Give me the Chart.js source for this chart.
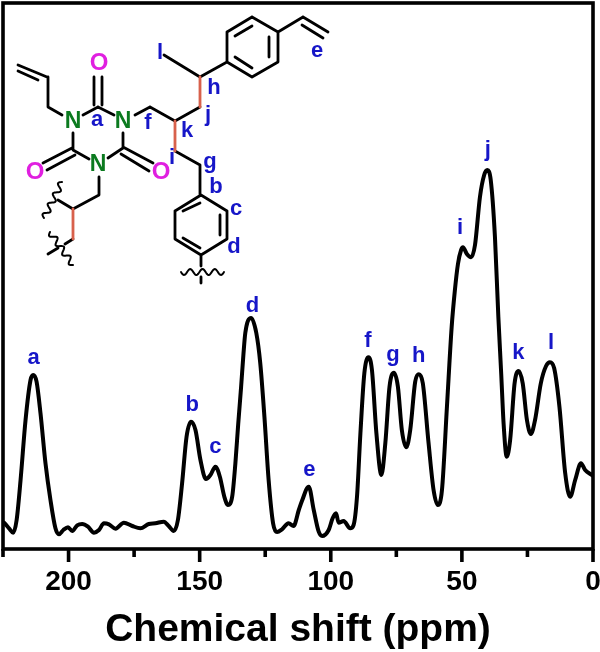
<!DOCTYPE html>
<html lang="en">
<head>
  <meta charset="UTF-8" />
  <title>Chemical shift spectrum</title>
  <script src="https://cdn.jsdelivr.net/npm/chart.js"></script>
  <style>
    html, body { margin: 0; padding: 0; background: #fff; }
    #wrap { width: 600px; height: 652px; }
  </style>
</head>
<body>
  <div id="wrap"><canvas id="nmrChart" width="600" height="652"></canvas></div>

  <script>
    // spectrum: ppm and intensity, same order
    const ppmValues = [225, 224.4, 222.7, 221.1, 219.8, 218.3, 216.4, 214.5, 213.5, 212.2, 210.7, 208.8, 206.9, 205.0, 203.7, 202.0, 200.2, 198.6, 196.7, 194.8, 192.6, 190.3, 188.4, 186.5, 184.6, 182.1, 178.9, 175.7, 172.6, 169.4, 166.9, 163.7, 161.8, 159.9, 158.3, 156.7, 155.0, 153.3, 151.6, 149.7, 147.6, 145.9, 144.0, 142.3, 140.6, 139.2, 137.6, 136.4, 135.3, 134.2, 133.3, 132.6, 130.4, 128.4, 126.9, 125.3, 123.7, 122.0, 120.5, 118.6, 116.1, 114.2, 112.2, 111.0, 108.4, 106.5, 104.6, 103.3, 100.8, 99.3, 98.0, 97.0, 95.1, 92.6, 91.3, 90.0, 88.7, 87.2, 85.6, 84.3, 82.6, 80.7, 79.2, 77.6, 75.9, 74.4, 72.9, 71.2, 69.7, 67.8, 66.4, 64.9, 62.7, 60.8, 59.2, 57.6, 55.7, 53.9, 52.7, 51.5, 50.3, 49.6, 48.1, 46.5, 45.0, 43.1, 41.5, 40.3, 39.0, 37.4, 36.1, 35.0, 34.1, 32.9, 31.6, 29.9, 28.4, 26.8, 25.2, 23.7, 22.1, 19.9, 17.9, 16.4, 14.8, 12.8, 10.6, 8.7, 6.8, 4.6, 3.0, 0.5, 0];
    const intensity = [27, 25.7, 20.7, 16.3, 29, 69, 129, 169, 174, 167.3, 135.7, 85.7, 49, 20.7, 14.7, 19, 21.7, 18, 23.7, 25, 22.3, 16.3, 19, 25.7, 24.7, 20.3, 26.3, 23, 20.7, 25, 25.7, 27.3, 23, 18, 29, 65.7, 112.3, 127.3, 119, 89, 70, 74, 82.3, 72.3, 52.3, 44, 52.3, 85, 125, 162, 195, 216, 231, 216, 186, 132, 69, 25.7, 17, 19.7, 25.7, 23, 39, 48, 62.3, 39, 17.3, 13, 19, 30.7, 35.7, 26.3, 28, 20.7, 24, 52.3, 115.7, 175.7, 191.7, 179, 115.7, 74, 105.7, 162.3, 176.3, 162.3, 119, 101.7, 119, 167.3, 174.7, 165.7, 105.7, 59, 44, 59, 142.3, 222, 258, 285, 299, 301.7, 295, 291.7, 304, 352.3, 374, 379, 369, 312.3, 232.3, 175, 125.7, 92.3, 109, 165.7, 178, 165.7, 129, 115, 129, 165.7, 183, 186.7, 180.7, 142.3, 75.7, 52.3, 69, 85.7, 79, 74, 73];

    const labelledTicks = [200, 150, 100, 50, 0];

    // peak letters above the trace
    const peakNames = ["a", "b", "c", "d", "e", "f", "g", "h", "i", "j", "k", "l"];
    const peakPpm = [213.3, 152.8, 144, 129.9, 108.2, 85.8, 76.3, 66.5, 50.7, 40.1, 28.5, 16];
    const peakHeight = [191, 144, 102, 243, 79, 208, 194, 193, 321, 399, 196, 206];

    const BLACK = "#000";
    const BLUE = "#1616c8";
    const RED = "#d8614c";
    const GREEN = "#0b7a1f";
    const MAGENTA = "#e01fe0";

    function wavy(ctx, x1, y1, x2, y2, waves, amp) {
      const dx = x2 - x1, dy = y2 - y1;
      const len = Math.hypot(dx, dy);
      const nx = -dy / len, ny = dx / len;
      ctx.beginPath();
      for (let i = 0; i <= 60; i++) {
        const t = i / 60;
        const off = Math.sin(t * waves * 2 * Math.PI) * amp;
        const px = x1 + dx * t + nx * off, py = y1 + dy * t + ny * off;
        if (i === 0) ctx.moveTo(px, py); else ctx.lineTo(px, py);
      }
      ctx.stroke();
    }

    // chemical structure in the top left corner, in canvas pixels
    const structurePlugin = {
      id: "structure",
      afterDraw(chart) {
        const ctx = chart.ctx;
        const blackBonds = [
          [18, 65, 47, 77], [18, 71, 38, 80], [48, 77, 48, 107], [48, 107, 62, 115],
          [83, 115, 98, 107], [98, 107, 114, 115], [94, 77, 94, 105], [102, 77, 102, 105],
          [73, 133, 73, 150], [73, 150, 89, 159], [43, 163, 72, 148], [47, 170, 75, 155],
          [123, 133, 123, 148], [123, 148, 108, 158], [123, 147, 153, 163], [121, 154, 149, 171],
          [99, 177, 99, 195], [99, 195, 73, 209], [73, 209, 58, 200], [73, 239, 65, 244], [58, 248, 48, 254],
          [135, 115, 150, 107], [150, 107, 175, 121], [175, 121, 200, 107],
          [175, 151, 200, 165], [200, 165, 200, 195],
          [201, 195, 227, 211], [227, 211, 227, 239], [227, 239, 201, 255], [201, 255, 175, 239], [175, 239, 175, 211], [175, 211, 201, 195],
          [183, 211, 200, 203], [220, 215, 220, 235], [183, 238, 200, 248],
          [201, 255, 201, 266], [201, 277, 201, 283],
          [200, 77, 164, 55], [200, 77, 227, 62],
          [227, 62, 227, 32], [227, 32, 252, 17], [252, 17, 278, 32], [278, 32, 278, 62], [278, 62, 252, 77], [252, 77, 227, 62],
          [235, 36, 252, 26], [269, 37, 269, 57], [235, 57, 252, 68],
          [278, 32, 303, 17], [303, 17, 328, 32], [302, 25, 323, 38]
        ];
        const redBonds = [[73, 209, 73, 239], [175, 121, 175, 151], [200, 107, 200, 77]];

        ctx.save();
        ctx.lineCap = "round";
        ctx.lineWidth = 2.8;
        ctx.strokeStyle = BLACK;
        ctx.beginPath();
        blackBonds.forEach(b => { ctx.moveTo(b[0], b[1]); ctx.lineTo(b[2], b[3]); });
        ctx.stroke();
        ctx.strokeStyle = RED;
        ctx.beginPath();
        redBonds.forEach(b => { ctx.moveTo(b[0], b[1]); ctx.lineTo(b[2], b[3]); });
        ctx.stroke();

        ctx.strokeStyle = BLACK;
        ctx.lineWidth = 2;
        wavy(ctx, 62, 182, 44, 218, 3.5, 3);
        wavy(ctx, 50, 232, 73, 265, 3.5, 3);
        wavy(ctx, 181, 272, 224, 272, 3.5, 3);

        ctx.textAlign = "center";
        ctx.textBaseline = "middle";
        ctx.font = "bold 23px 'Liberation Sans'";
        ctx.fillStyle = GREEN;
        [[73, 122], [123, 122], [98, 165]].forEach(p => ctx.fillText("N", p[0], p[1]));
        ctx.font = "bold 24px 'Liberation Sans'";
        ctx.fillStyle = MAGENTA;
        [[99, 63], [35, 172], [161, 172]].forEach(p => ctx.fillText("O", p[0], p[1]));
        ctx.font = "bold 22px 'Liberation Sans'";
        ctx.fillStyle = BLUE;
        [["a", 97, 120], ["e", 317, 51], ["f", 148, 123], ["h", 214, 88], ["i", 172, 158], ["j", 208, 115],
         ["k", 187, 131], ["g", 210, 162], ["b", 216, 187], ["c", 236, 209], ["d", 234, 247], ["l", 160, 53]]
          .forEach(t => ctx.fillText(t[0], t[1], t[2]));
        ctx.restore();
      }
    };

    // frame, ticks of two lengths, peak letters
    const framePlugin = {
      id: "frame",
      afterDatasetsDraw(chart) {
        const ctx = chart.ctx;
        const a = chart.chartArea;
        const xs = chart.scales.x, ys = chart.scales.y;
        ctx.save();
        ctx.strokeStyle = BLACK;
        ctx.lineWidth = 3.6;
        ctx.strokeRect(a.left, a.top, a.right - a.left, a.bottom - a.top);
        ctx.beginPath();
        xs.ticks.forEach(t => {
          const px = xs.getPixelForValue(t.value);
          ctx.moveTo(px, a.bottom);
          ctx.lineTo(px, a.bottom + (labelledTicks.includes(t.value) ? 13 : 8));
        });
        ctx.stroke();

        ctx.font = "bold 22px 'Liberation Sans'";
        ctx.fillStyle = BLUE;
        ctx.textAlign = "center";
        ctx.textBaseline = "middle";
        peakNames.forEach((name, i) => {
          ctx.fillText(name, xs.getPixelForValue(peakPpm[i]), ys.getPixelForValue(peakHeight[i]));
        });
        ctx.restore();
      }
    };

    new Chart(document.getElementById("nmrChart"), {
      type: "line",
      data: {
        datasets: [{
          data: ppmValues.map((p, i) => ({ x: p, y: intensity[i] })),
          borderColor: BLACK,
          borderWidth: 4,
          pointRadius: 0,
          cubicInterpolationMode: "monotone",
          borderJoinStyle: "round"
        }]
      },
      options: {
        responsive: false,
        animation: false,
        layout: { padding: { left: 3, right: 7, top: 3, bottom: 0 } },
        plugins: { legend: { display: false }, tooltip: { enabled: false } },
        scales: {
          x: {
            type: "linear",
            reverse: true,
            min: 0,
            max: 225,
            afterFit: s => { s.height = 103; s.paddingLeft = 0; s.paddingRight = 0; },
            grid: { display: false, drawTicks: false },
            border: { display: false },
            ticks: {
              stepSize: 25,
              autoSkip: false,
              maxRotation: 0,
              padding: 16,
              color: BLACK,
              font: { family: "'Liberation Sans'", size: 28, weight: "bold" },
              callback: v => labelledTicks.includes(v) ? String(v) : ""
            },
            title: {
              display: true,
              text: "Chemical shift (ppm)",
              color: BLACK,
              font: { family: "'Liberation Sans'", size: 39, weight: "bold" },
              padding: { top: 14, bottom: -2 }
            }
          },
          y: { display: false, min: 0, max: 546 }
        }
      },
      plugins: [framePlugin, structurePlugin]
    });
  </script>
</body>
</html>
